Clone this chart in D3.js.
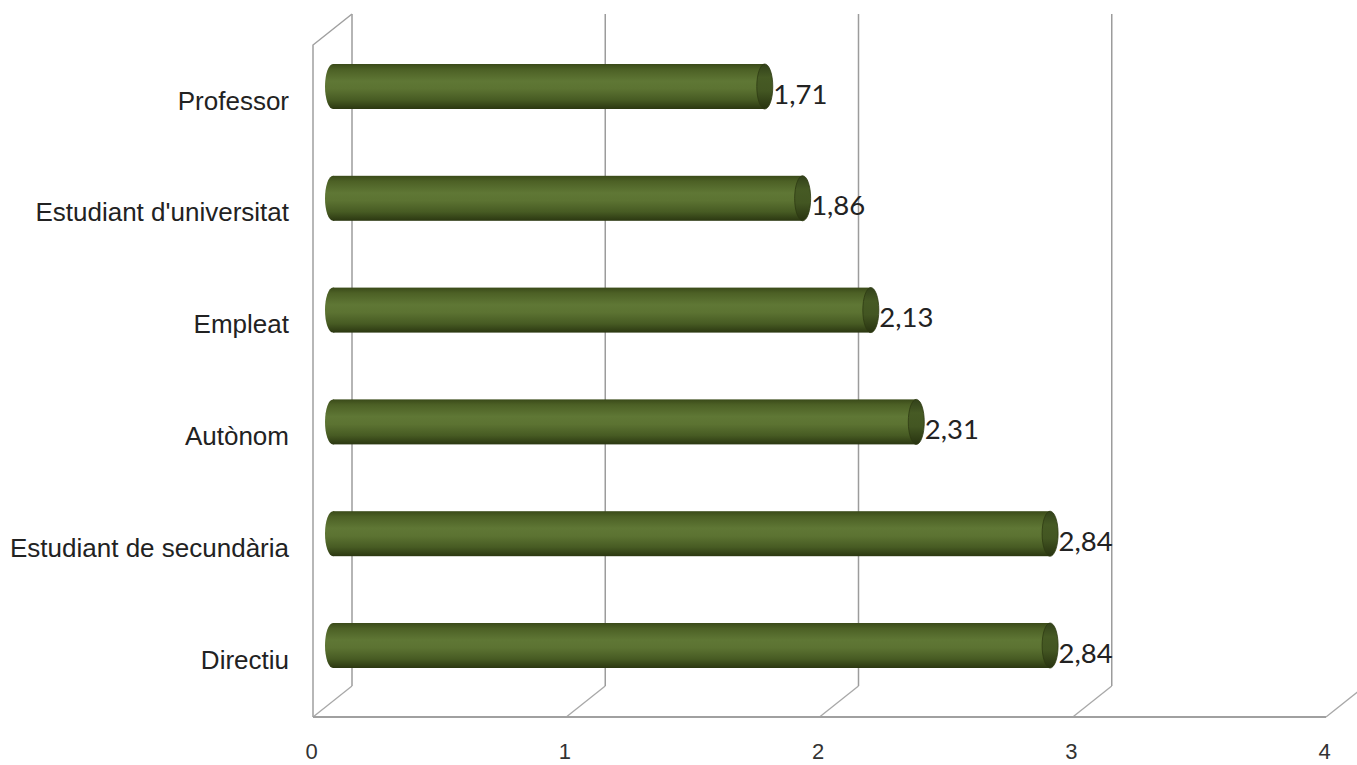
<!DOCTYPE html>
<html>
<head>
<meta charset="utf-8">
<script src="https://cdn.jsdelivr.net/npm/d3@7"></script>
<style>
  html, body { margin: 0; padding: 0; background: #ffffff; }
  svg { display: block; }
</style>
</head>
<body>
<svg id="chart" width="1357" height="765"></svg>
<script>
// ---- data ----
const categories = ["Professor", "Estudiant d'universitat", "Empleat", "Autònom", "Estudiant de secundària", "Directiu"];
const values = [1.71, 1.86, 2.13, 2.31, 2.84, 2.84];
const tickValues = [0, 1, 2, 3, 4];

// ---- layout ----
const W = 1357, H = 765;
const frontY = 717;          // floor front edge
const backBottom = 686;      // floor back edge
const backTop = 14;          // top of back wall
const depthX = 39, depthY = backBottom - frontY;
const barH = 45;

const svg = d3.select("#chart");

const xFront = d3.scaleLinear().domain([0, 4]).range([313, 1326]);
const xBack = d3.scaleLinear().domain([0, 4]).range([313 + depthX, 1326 + depthX]);
const xBar = d3.scaleLinear().domain([0, 4]).range([333, 333 + 4 * 252.5]);
const y = d3.scalePoint().domain(categories).range([86.5, 645.5]);

const fmt = d3.formatLocale({decimal: ",", thousands: ".", grouping: [3], currency: ["", "€"]}).format(".2f");

// ---- gradients ----
const defs = svg.append("defs");
const g1 = defs.append("linearGradient").attr("id", "body").attr("x1", 0).attr("y1", 0).attr("x2", 0).attr("y2", 1);
[[0, "#3a4a19"], [0.12, "#4c6025"], [0.38, "#5f7735"], [0.55, "#5c7332"], [0.8, "#475b23"], [1, "#2b3711"]]
  .forEach(([o, c]) => g1.append("stop").attr("offset", o).attr("stop-color", c));
const g2 = defs.append("linearGradient").attr("id", "cap").attr("x1", 0).attr("y1", 0).attr("x2", 0).attr("y2", 1);
[[0, "#32411a"], [0.3, "#465a24"], [0.6, "#435622"], [1, "#283310"]]
  .forEach(([o, c]) => g2.append("stop").attr("offset", o).attr("stop-color", c));

// ---- walls / grid ----
const grid = svg.append("g").attr("fill", "none");
grid.selectAll("line.v").data(tickValues).join("line")
  .attr("x1", d => xBack(d)).attr("x2", d => xBack(d))
  .attr("y1", backTop).attr("y2", backBottom)
  .attr("stroke", "#9c9c9c").attr("stroke-width", 1.5);
grid.selectAll("line.d").data(tickValues).join("line")
  .attr("x1", d => xFront(d)).attr("x2", d => xBack(d))
  .attr("y1", frontY).attr("y2", backBottom)
  .attr("stroke", "#a8a8a8").attr("stroke-width", 1.3);
grid.append("path")
  .attr("d", `M${xBack(0)},${backTop} L${xFront(0)},${backTop - depthY} L${xFront(0)},${frontY}`)
  .attr("stroke", "#a0a0a0").attr("stroke-width", 1.5);
grid.append("line")
  .attr("x1", xFront(0)).attr("x2", xFront(4))
  .attr("y1", frontY).attr("y2", frontY)
  .attr("stroke", "#a0a0a0").attr("stroke-width", 2.2);

// ---- axis ----
const axis = svg.append("g").attr("transform", `translate(0,${frontY})`)
  .call(d3.axisBottom(xFront).tickValues(tickValues).tickSize(0).tickPadding(26).tickFormat(d3.format("d")));
axis.select(".domain").remove();
axis.selectAll("text")
  .attr("font-family", "'Liberation Sans Narrow', 'Liberation Sans', Arial, sans-serif")
  .attr("font-size", 22).attr("fill", "#333")
  .attr("dx", -2);

// ---- category labels ----
svg.append("g").selectAll("text").data(categories).join("text")
  .attr("x", 289).attr("y", d => y(d) + 23)
  .attr("text-anchor", "end")
  .attr("font-family", "'Liberation Sans', Arial, sans-serif")
  .attr("font-size", 26).attr("fill", "#222")
  .text(d => d);

// ---- cylinders ----
const bars = svg.append("g").selectAll("g").data(categories.map((c, i) => ({c, v: values[i]}))).join("g");
const rx = 8;
bars.append("ellipse")
  .attr("cx", xBar(0)).attr("cy", d => y(d.c))
  .attr("rx", rx).attr("ry", barH / 2)
  .attr("fill", "url(#body)");
bars.append("rect")
  .attr("x", xBar(0)).attr("y", d => y(d.c) - barH / 2)
  .attr("width", d => xBar(d.v) - xBar(0)).attr("height", barH)
  .attr("fill", "url(#body)");
bars.append("ellipse")
  .attr("cx", d => xBar(d.v)).attr("cy", d => y(d.c))
  .attr("rx", rx).attr("ry", barH / 2)
  .attr("fill", "url(#cap)").attr("stroke", "#2d3a12").attr("stroke-width", 0.8);

// ---- value labels ----
bars.append("text")
  .attr("x", d => xBar(d.v) + rx + 0.5).attr("y", d => y(d.c) + 17)
  .attr("font-family", "Lato, 'Open Sans', sans-serif")
  .attr("font-size", 27.5).attr("fill", "#222")
  .text(d => fmt(d.v));
</script>
</body>
</html>
